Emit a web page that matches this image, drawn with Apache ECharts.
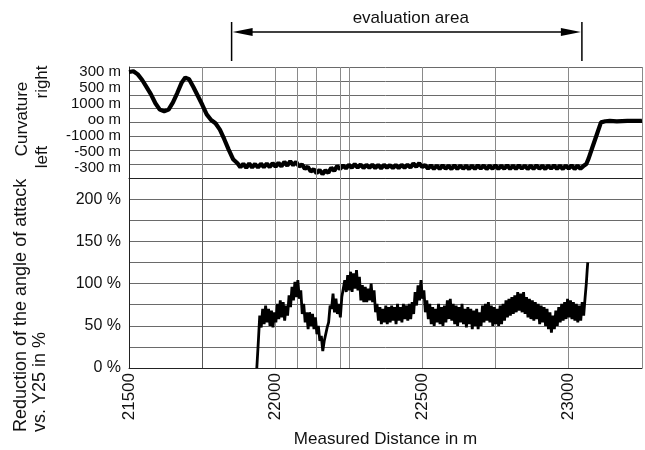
<!DOCTYPE html>
<html><head><meta charset="utf-8">
<script src="https://cdn.jsdelivr.net/npm/echarts@6/dist/echarts.min.js"></script>
<style>html,body{margin:0;padding:0;background:#fff}#c{width:645px;height:450px}</style>
</head><body><div id="c"></div>
<script>
// curvature radius labels, index -3 .. 3 (left .. right)
const curvatureLabels = ['-300 m', '-500 m', '-1000 m', 'oo m', '1000 m', '500 m', '300 m'];
const distanceTicks = [21500, 22000, 22500, 23000];
const percentTicks = [0, 50, 100, 150, 200];
const extraGridLines = [22075, 22140, 22220];
const darkGridLine = 21750;
const evaluationArea = [21850, 23045];

// [distance m, curvature index]
const curvature = [
 [21500,3.0],[21515,3.05],[21530,2.85],[21545,2.5],[21560,2.05],[21575,1.6],[21590,1.05],[21605,0.65],
 [21620,0.55],[21635,0.65],[21650,1.1],[21665,1.7],[21680,2.35],[21692,2.65],[21705,2.55],[21720,2.05],
 [21735,1.5],[21750,0.95],[21765,0.35],[21780,0.0],[21795,-0.2],[21810,-0.6],[21825,-1.2],[21840,-1.85],
 [21855,-2.45],
 [21870,-2.70],[21880,-2.95],[21890,-2.74],[21900,-2.98],[21910,-2.72],[21920,-2.96],[21930,-2.75],
 [21940,-2.97],[21950,-2.73],[21960,-2.95],[21970,-2.72],[21980,-2.94],[21990,-2.70],[22000,-2.92],
 [22010,-2.68],[22020,-2.90],[22030,-2.62],[22040,-2.85],[22050,-2.58],[22060,-2.82],[22070,-2.62],
 [22080,-2.90],[22090,-2.78],[22100,-3.05],[22110,-2.92],[22120,-3.22],[22130,-3.08],[22140,-3.32],
 [22150,-3.12],[22160,-3.38],[22170,-3.15],[22180,-3.30],[22190,-2.98],[22200,-3.18],[22210,-2.88],
 [22220,-3.06],[22230,-2.84],[22240,-3.02],[22250,-2.80],[22260,-2.98],[22270,-2.76],[22280,-2.97],
 [22290,-2.78],[22300,-3.00],[22310,-2.80],[22320,-2.99],[22330,-2.79],[22340,-3.00],[22350,-2.81],
 [22360,-3.02],[22370,-2.80],[22380,-2.98],[22390,-2.82],[22400,-3.01],[22410,-2.81],[22420,-3.00],
 [22430,-2.80],[22440,-2.98],[22450,-2.79],[22460,-2.97],[22470,-2.72],[22480,-2.92],[22490,-2.70],
 [22500,-2.94],[22510,-2.82],[22520,-3.04],[22530,-2.84],[22540,-3.05],[22550,-2.85],[22560,-3.06],
 [22570,-2.84],[22580,-3.04],[22590,-2.86],[22600,-3.06],[22610,-2.84],[22620,-3.05],[22630,-2.85],
 [22640,-3.04],[22650,-2.86],[22660,-3.06],[22670,-2.85],[22680,-3.05],[22690,-2.84],[22700,-3.03],
 [22710,-2.85],[22720,-3.06],[22730,-2.86],[22740,-3.04],[22750,-2.84],[22760,-3.05],[22770,-2.86],
 [22780,-3.04],[22790,-2.83],[22800,-3.05],[22810,-2.85],[22820,-3.06],[22830,-2.84],[22840,-3.04],
 [22850,-2.85],[22860,-3.06],[22870,-2.86],[22880,-3.05],[22890,-2.84],[22900,-3.04],[22910,-2.86],
 [22920,-3.06],[22930,-2.85],[22940,-3.04],[22950,-2.84],[22960,-3.05],[22970,-2.86],[22980,-3.06],
 [22990,-2.85],[23000,-3.04],[23010,-2.84],[23020,-3.06],[23030,-2.86],[23040,-3.04],[23050,-2.88],
 [23060,-2.75],[23068,-2.4],[23080,-1.75],[23095,-0.95],[23110,-0.15],[23125,-0.08],[23140,-0.06],
 [23164,-0.08],[23200,-0.05],[23242,-0.06],[23250,-0.05]
];

// [distance m, reduction %]
const reduction = [
 [21936,0],[21941,30],[21946,62],[21951,48],[21956,70],[21961,52],[21966,74],[21971,54],[21976,70],
 [21981,50],[21986,68],[21991,48],[21996,66],[22001,54],[22006,76],[22011,58],[22016,80],[22021,60],
 [22026,78],[22031,56],[22036,74],[22041,62],[22046,86],[22051,72],[22056,96],[22061,80],[22066,102],
 [22071,84],[22076,104],[22081,82],[22086,92],[22091,64],[22096,76],[22101,54],[22106,66],[22111,46],
 [22116,66],[22121,50],[22126,64],[22131,46],[22136,60],[22141,40],[22146,50],[22151,32],[22156,38],
 [22161,20],[22166,32],[22171,30],[22176,48],[22181,54],[22186,74],[22191,70],[22196,88],[22201,66],
 [22206,82],[22211,64],[22216,76],[22221,60],[22226,84],[22231,82],[22236,104],[22241,90],[22246,110],
 [22251,92],[22256,114],[22261,90],[22266,112],[22271,94],[22276,116],[22281,92],[22286,108],[22291,80],
 [22296,98],[22301,78],[22306,96],[22311,78],[22316,94],[22321,80],[22326,100],[22331,78],[22336,92],
 [22341,66],[22346,76],[22351,56],[22356,72],[22361,52],[22366,70],[22371,54],[22376,74],[22381,52],
 [22386,72],[22391,54],[22396,74],[22401,56],[22406,72],[22411,52],[22416,76],[22421,56],[22426,72],
 [22431,54],[22436,76],[22441,58],[22446,74],[22451,56],[22456,76],[22461,58],[22466,78],[22471,64],
 [22476,90],[22481,74],[22486,98],[22491,80],[22496,104],[22501,82],[22506,92],[22511,66],[22516,80],
 [22521,58],[22526,76],[22531,52],[22536,72],[22541,50],[22546,70],[22551,54],[22556,76],[22561,52],
 [22566,72],[22571,50],[22576,74],[22581,54],[22586,80],[22591,58],[22596,82],[22601,56],[22606,76],
 [22611,52],[22616,74],[22621,50],[22626,72],[22631,54],[22636,76],[22641,52],[22646,70],[22651,48],
 [22656,72],[22661,52],[22666,70],[22671,46],[22676,68],[22681,50],[22686,70],[22691,46],[22696,66],
 [22701,50],[22706,74],[22711,54],[22716,76],[22721,56],[22726,78],[22731,54],[22736,74],[22741,50],
 [22746,72],[22751,52],[22756,70],[22761,50],[22766,74],[22771,52],[22776,76],[22781,56],[22786,80],
 [22791,60],[22796,82],[22801,62],[22806,84],[22811,64],[22816,86],[22821,66],[22826,90],[22831,68],
 [22836,88],[22841,66],[22846,90],[22851,64],[22856,84],[22861,60],[22866,82],[22871,58],[22876,80],
 [22881,56],[22886,78],[22891,58],[22896,76],[22901,52],[22906,74],[22911,54],[22916,72],[22921,50],
 [22926,70],[22931,46],[22936,66],[22941,42],[22946,62],[22951,46],[22956,68],[22961,50],[22966,72],
 [22971,54],[22976,76],[22981,56],[22986,78],[22991,58],[22996,82],[23001,60],[23006,80],[23011,58],
 [23016,78],[23021,56],[23026,76],[23031,54],[23036,74],[23041,56],[23046,78],[23051,62],[23056,84],
 [23060,100],[23063,116],[23065,125]
];

const FONT = '"Liberation Sans", Arial, Helvetica, sans-serif';
const chart = echarts.init(document.getElementById('c'));
const vLine = '#8a8a8a', hLine = '#6a6a6a', axisCol = '#222';
const xCommon = {type: 'value', min: 21500, max: 23250, interval: 250};
const upperMarks = {
  silent: true, symbol: 'none', animation: false, label: {show: false},
  lineStyle: {color: vLine, width: 1, type: 'solid'},
  data: extraGridLines.map(d => ({xAxis: d}))
};
const lowerMarks = {
  silent: true, symbol: 'none', animation: false, label: {show: false},
  lineStyle: {color: vLine, width: 1, type: 'solid'},
  data: extraGridLines.map(d => ({xAxis: d})).concat([{xAxis: darkGridLine, lineStyle: {color: '#555', width: 1}}])
};
chart.setOption({
  animation: false,
  textStyle: {fontFamily: FONT},
  grid: [
    {left: 129, right: 3, top: 67, height: 111},
    {left: 129, right: 3, top: 72, height: 96},
    {left: 129, right: 3, top: 178, height: 190}
  ],
  xAxis: [
    Object.assign({}, xCommon, {gridIndex: 0, axisLabel: {show: false}, axisTick: {show: false},
      axisLine: {show: true, lineStyle: {color: axisCol, width: 1}},
      splitLine: {show: true, lineStyle: {color: vLine, width: 1}}}),
    Object.assign({}, xCommon, {gridIndex: 1, show: false}),
    Object.assign({}, xCommon, {gridIndex: 2,
      axisTick: {show: false},
      axisLine: {show: true, lineStyle: {color: axisCol, width: 1}},
      splitLine: {show: true, lineStyle: {color: vLine, width: 1}},
      axisLabel: {rotate: 90, margin: 5, fontSize: 17, color: '#111', fontFamily: FONT,
        formatter: v => distanceTicks.indexOf(v) >= 0 ? String(v) : ''},
      name: 'Measured Distance in m', nameLocation: 'middle', nameGap: 63,
      nameTextStyle: {fontSize: 17, color: '#111', fontFamily: FONT}})
  ],
  yAxis: [
    {type: 'value', gridIndex: 0, min: 0, max: 8, interval: 1,
      axisLabel: {show: false}, axisTick: {show: false},
      axisLine: {show: true, lineStyle: {color: axisCol, width: 1}},
      splitLine: {show: true, lineStyle: {color: hLine, width: 1}}},
    {type: 'value', gridIndex: 1, min: -3, max: 3, interval: 1,
      axisLine: {show: false}, axisTick: {show: false}, splitLine: {show: false},
      axisLabel: {margin: 8, fontSize: 15, color: '#111', fontFamily: FONT,
        formatter: v => curvatureLabels[Math.round(v) + 3] || ''}},
    {type: 'value', gridIndex: 2, min: 0, max: 225, interval: 25,
      axisTick: {show: false},
      axisLine: {show: true, lineStyle: {color: axisCol, width: 1}},
      splitLine: {show: true, lineStyle: {color: hLine, width: 1}},
      axisLabel: {margin: 8, fontSize: 16, color: '#111', fontFamily: FONT,
        formatter: v => percentTicks.indexOf(v) >= 0 ? v + ' %' : ''}}
  ],
  series: [
    {type: 'line', xAxisIndex: 0, yAxisIndex: 0, data: [], markLine: upperMarks, silent: true},
    {type: 'line', xAxisIndex: 1, yAxisIndex: 1, data: curvature, showSymbol: false, clip: false,
      lineStyle: {color: '#000', width: 4.2}, silent: true},
    {type: 'line', xAxisIndex: 2, yAxisIndex: 2, data: reduction, showSymbol: false,
      lineStyle: {color: '#000', width: 2.8}, markLine: lowerMarks, silent: true, z: 5}
  ]
});

const px1 = chart.convertToPixel({xAxisIndex: 0}, evaluationArea[0]);
const px2 = chart.convertToPixel({xAxisIndex: 0}, evaluationArea[1]);
const rot = (t, x, y, align, size) => ({type: 'text', x: x, y: y, rotation: Math.PI / 2, silent: true,
  style: {text: t, fontSize: size, fontFamily: FONT, fill: '#111', lineHeight: 19,
    align: align, textAlign: align, verticalAlign: 'top', textVerticalAlign: 'top'}});
chart.setOption({
  graphic: [
    {type: 'line', silent: true, shape: {x1: px1, y1: 22, x2: px1, y2: 61}, style: {stroke: '#000', lineWidth: 1.5}},
    {type: 'line', silent: true, shape: {x1: px2, y1: 22, x2: px2, y2: 61}, style: {stroke: '#000', lineWidth: 1.5}},
    {type: 'line', silent: true, shape: {x1: px1 + 12, y1: 32, x2: px2 - 12, y2: 32}, style: {stroke: '#000', lineWidth: 1.5}},
    {type: 'polygon', silent: true, shape: {points: [[px1 + 1, 32], [px1 + 21, 28], [px1 + 21, 36]]}, style: {fill: '#000'}},
    {type: 'polygon', silent: true, shape: {points: [[px2 - 1, 32], [px2 - 21, 28], [px2 - 21, 36]]}, style: {fill: '#000'}},
    {type: 'text', x: (px1 + px2) / 2 + 4, y: 18, silent: true,
      style: {text: 'evaluation area', fontSize: 17, fontFamily: FONT, fill: '#111',
        align: 'center', textAlign: 'center', verticalAlign: 'middle', textVerticalAlign: 'middle'}},
    rot('Reduction of the angle of attack\nvs. Y25 in %', 12, 432, 'left', 18),
    rot('Curvature', 13, 119, 'center', 17),
    rot('right', 33, 82, 'center', 17),
    rot('left', 33, 157, 'center', 17)
  ]
});
</script>
</body></html>
